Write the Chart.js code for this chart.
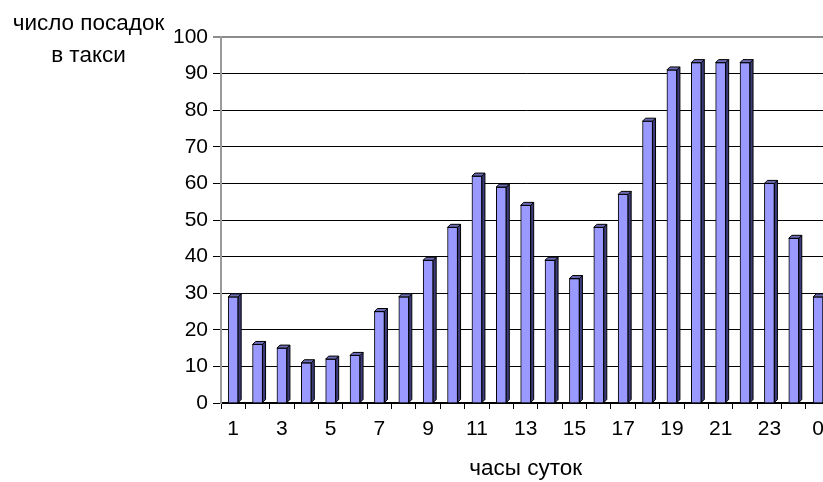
<!DOCTYPE html>
<html>
<head>
<meta charset="utf-8">
<script src="https://cdn.jsdelivr.net/npm/chart.js@4.4.0/dist/chart.umd.min.js"></script>
<style>
    html, body { margin: 0; padding: 0; background: #fff; overflow: hidden; }
    #wrap { width: 832px; height: 482px; }
</style>
</head>
<body>
<div id="wrap"><canvas id="taxiChart"></canvas></div>
<script>
// hours of the day (last one is midnight)
const hours = ['1', '2', '3', '4', '5', '6', '7', '8', '9', '10', '11', '12',
    '13', '14', '15', '16', '17', '18', '19', '20', '21', '22', '23', '24', '0'];
// taxi pickups per hour
const pickups = [29, 16, 15, 11, 12, 13, 25, 29, 39, 48, 62, 59,
    54, 39, 34, 48, 57, 77, 91, 93, 93, 93, 60, 45, 29];
const yTitleLines = ['число посадок', 'в такси'];
const xTitle = 'часы суток';

const FONT = "'Liberation Sans', Arial, sans-serif";
const DEPTH = 3;

// fake 3d: side face and top cap on each bar
const bars3d = {
    id: 'bars3d',
    afterDatasetsDraw(chart) {
        const ctx = chart.ctx;
        const meta = chart.getDatasetMeta(0);
        ctx.save();
        ctx.lineWidth = 1;
        ctx.strokeStyle = '#000';
        meta.data.forEach(bar => {
            const p = bar.getProps(['x', 'y', 'base', 'width'], true);
            const l = p.x - p.width / 2, r = p.x + p.width / 2;
            // side
            ctx.beginPath();
            ctx.moveTo(r, p.y);
            ctx.lineTo(r + DEPTH, p.y - DEPTH);
            ctx.lineTo(r + DEPTH, p.base - DEPTH);
            ctx.lineTo(r, p.base);
            ctx.closePath();
            ctx.fillStyle = '#3c3c7c';
            ctx.fill();
            ctx.stroke();
            // top
            ctx.beginPath();
            ctx.moveTo(l, p.y);
            ctx.lineTo(l + DEPTH, p.y - DEPTH);
            ctx.lineTo(r + DEPTH, p.y - DEPTH);
            ctx.lineTo(r, p.y);
            ctx.closePath();
            ctx.fillStyle = '#6b6bb3';
            ctx.fill();
            ctx.stroke();
        });
        ctx.restore();
    }
};

// horizontal two-line axis caption in the top-left corner
const yCaption = {
    id: 'yCaption',
    afterDraw(chart) {
        const ctx = chart.ctx;
        ctx.save();
        ctx.font = '22.5px ' + FONT;
        ctx.fillStyle = '#000';
        ctx.textAlign = 'center';
        ctx.textBaseline = 'alphabetic';
        yTitleLines.forEach((line, i) => {
            ctx.fillText(line, 88.5, 30 + i * 32);
        });
        ctx.restore();
    }
};

new Chart(document.getElementById('taxiChart'), {
    type: 'bar',
    data: {
        labels: hours,
        datasets: [{
            data: pickups,
            backgroundColor: '#9999ff',
            borderColor: '#000',
            borderWidth: 1,
            barThickness: 10
        }]
    },
    options: {
        responsive: true,
        maintainAspectRatio: false,
        animation: false,
        layout: { padding: { top: 37, right: 0, left: 0, bottom: 0 } },
        plugins: {
            legend: { display: false },
            tooltip: { enabled: false }
        },
        scales: {
            x: {
                offset: true,
                grid: {
                    offset: true,
                    drawOnChartArea: false,
                    tickLength: 6,
                    color: '#000',
                    lineWidth: 1
                },
                border: { color: '#000', width: 2 },
                ticks: {
                    autoSkip: false,
                    maxRotation: 0,
                    padding: 8,
                    color: '#000',
                    font: { family: FONT, size: 21 },
                    callback: (v, i) => (i % 2 === 0 ? hours[i] : '')
                },
                title: {
                    display: true,
                    text: xTitle,
                    color: '#000',
                    font: { family: FONT, size: 22.5 },
                    padding: { top: 4, bottom: 0 }
                },
                afterFit: s => { s.height = 79; }
            },
            y: {
                min: 0,
                max: 100,
                ticks: {
                    stepSize: 10,
                    padding: 5,
                    color: '#000',
                    font: { family: FONT, size: 21 }
                },
                grid: {
                    tickLength: 8,
                    color: c => (c.tick && c.tick.value === 100 ? '#8c8c8c' : '#000'),
                    lineWidth: c => (c.tick && c.tick.value === 100 ? 2 : 1)
                },
                border: { color: '#9a9a9a', width: 2 },
                afterFit: s => { s.width = 221; }
            }
        }
    },
    plugins: [bars3d, yCaption]
});
</script>
</body>
</html>
